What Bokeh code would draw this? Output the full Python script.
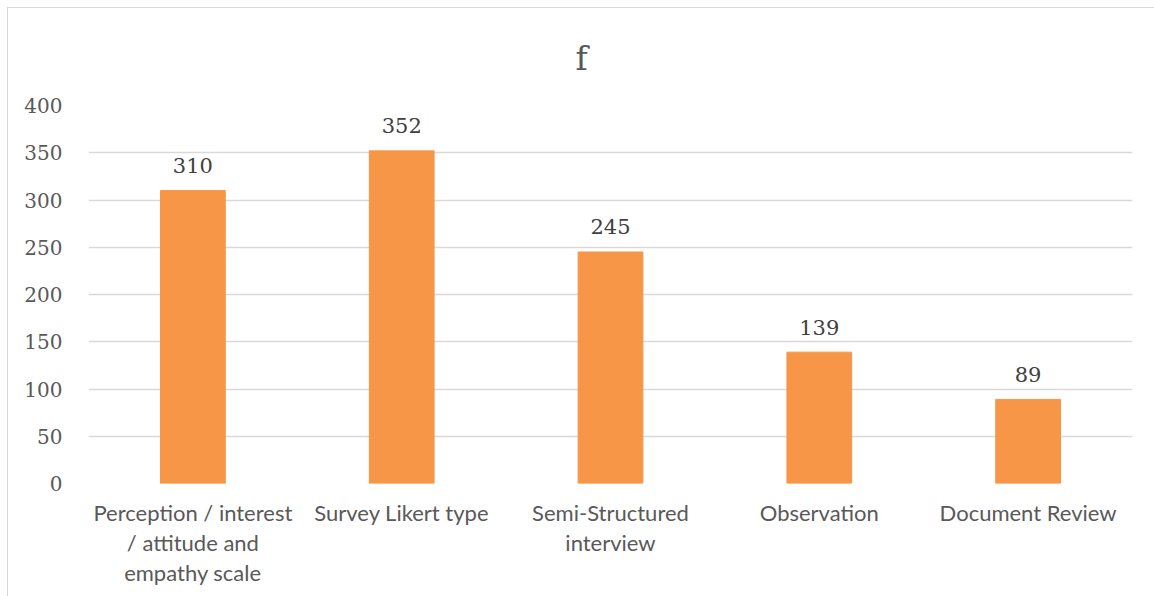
from bokeh.plotting import figure
from bokeh.models import ColumnDataSource, Range1d, FixedTicker, CategoricalAxis, FactorRange
from bokeh.core.properties import value
from bokeh.embed import file_html
from bokeh.resources import INLINE

# Number of studies per data-collection instrument
categories = ["Perception / interest / attitude and empathy scale",
              "Survey Likert type",
              "Semi-Structured interview",
              "Observation",
              "Document Review"]
counts = [310, 352, 245, 139, 89]
# category names broken into the lines shown under each bar
label_lines = [["Perception / interest", "/ attitude and", "empathy scale"],
               ["Survey Likert type"],
               ["Semi-Structured", "interview"],
               ["Observation"],
               ["Document Review"]]
y_ticks = [0, 50, 100, 150, 200, 250, 300, 350, 400]

BAR = "#F79646"
GRID = "#D9D9D9"
TEXT = "#595959"
SERIF = "DejaVu Serif"
SANS = "Lato"

source = ColumnDataSource(dict(cat=categories, n=counts,
                               lbl=[str(v) for v in counts]))

p = figure(x_range=categories, y_range=Range1d(0, 400),
           width=1147, height=589, output_backend="svg",
           toolbar_location=None, tools="", x_axis_location=None,
           min_border_left=80, min_border_right=23,
           min_border_top=97, min_border_bottom=114,
           margin=(7, 0, 0, 7))
p.styles = {"border-left": f"1px solid {GRID}", "border-top": f"1px solid {GRID}"}

p.title.text = "f"
p.title.align = "left"
p.title.offset = 487
p.title.text_font = SERIF
p.title.text_font_size = "33px"
p.title.text_font_style = "normal"
p.title.text_color = TEXT
p.title.standoff = 55

p.vbar(x="cat", top="n", width=0.31, source=source, color=BAR)
p.text(x="cat", y="n", text="lbl", source=source,
       text_align="center", text_baseline="alphabetic", y_offset=-25,
       text_font=value(SERIF), text_font_size="21px", text_color="#404040")

p.outline_line_color = None
p.xgrid.grid_line_color = None
p.ygrid.grid_line_color = GRID
p.ygrid.grid_line_width = 1.3

p.yaxis.ticker = FixedTicker(ticks=y_ticks)
p.yaxis.axis_line_color = None
p.yaxis.major_tick_line_color = None
p.yaxis.minor_tick_line_color = None
p.yaxis.major_label_text_font = SERIF
p.yaxis.major_label_text_font_size = "20px"
p.yaxis.major_label_text_color = TEXT
p.yaxis.major_label_standoff = 20

# one categorical axis per text line under the bars; each has its own
# factor range so that its tick labels are that line of every category
for k in range(3):
    factors = []
    for i, lines in enumerate(label_lines):
        factors.append(lines[k] if k < len(lines) else " " * (i + 1))
    name = f"line{k}"
    p.extra_x_ranges[name] = FactorRange(factors=factors)
    ax = CategoricalAxis(x_range_name=name)
    ax.axis_line_color = None
    ax.major_tick_line_color = None
    ax.minor_tick_line_color = None
    ax.major_tick_out = 0
    ax.major_tick_in = 0
    ax.major_label_text_font = SANS
    ax.major_label_text_font_size = "22px"
    ax.major_label_text_color = TEXT
    ax.major_label_standoff = 15 if k == 0 else 0
    p.add_layout(ax, "below")

open("out.html", "w").write(file_html(p, INLINE))
